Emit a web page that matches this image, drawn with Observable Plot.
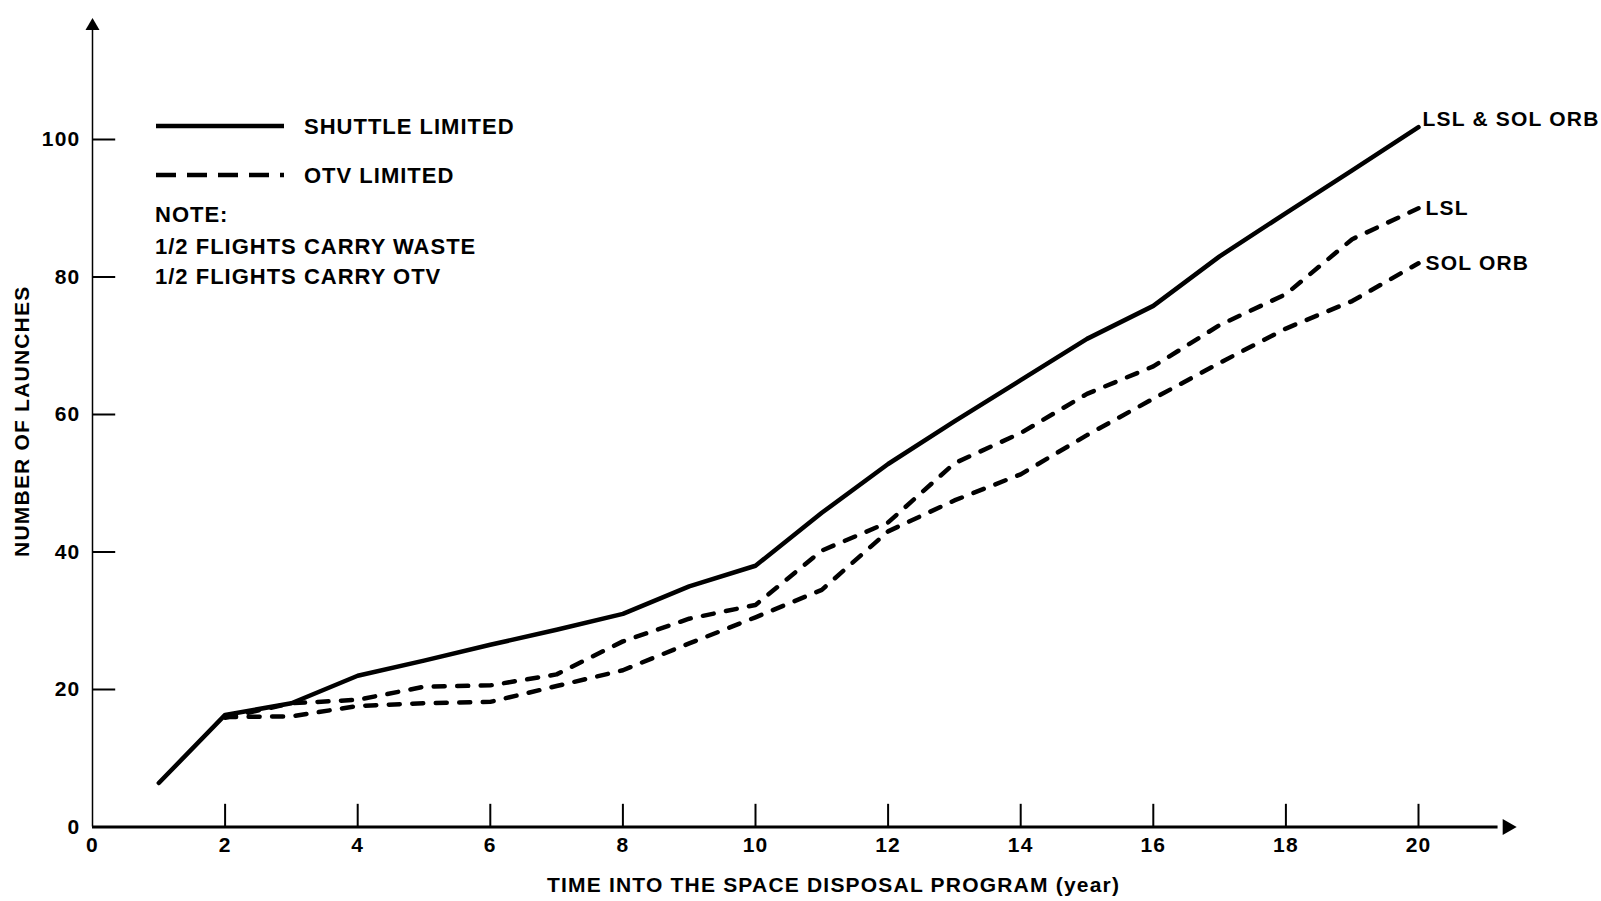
<!DOCTYPE html>
<html>
<head>
<meta charset="utf-8">
<script src="https://cdn.jsdelivr.net/npm/d3@7"></script>
<script src="https://cdn.jsdelivr.net/npm/@observablehq/plot@0.6"></script>
<style>
  html, body { margin: 0; padding: 0; background: #fff; }
  #wrap { position: relative; width: 1601px; height: 901px; overflow: hidden; background: #fff; }
</style>
</head>
<body>
<div id="wrap"></div>
<script>
// ---- data ----
const years = [1, 2, 3, 4, 5, 6, 7, 8, 9, 10, 11, 12, 13, 14, 15, 16, 17, 18, 19, 20];
const shuttleLimited = [6.4, 16.3, 18, 22, 24.2, 26.5, 28.7, 31, 35, 38, 45.7, 52.8, 59, 65, 71, 75.8, 83, 89.3, 95.5, 101.8];
const otvYears = [2, 3, 4, 5, 6, 7, 8, 9, 10, 11, 12, 13, 14, 15, 16, 17, 18, 19, 20];
const otvLsl = [15.9, 18, 18.5, 20.4, 20.6, 22.2, 27, 30.3, 32.3, 40.2, 44.3, 52.9, 57.3, 63, 67, 73, 77.5, 85.5, 90];
const otvSolOrb = [16, 16.1, 17.6, 18, 18.2, 20.5, 22.8, 26.7, 30.5, 34.5, 43, 47.5, 51.3, 57, 62.3, 67.5, 72.5, 76.5, 82];
const xTicks = [0, 2, 4, 6, 8, 10, 12, 14, 16, 18, 20];
const yTicks = [0, 20, 40, 60, 80, 100];
const endLabels = ["LSL & SOL ORB", "LSL", "SOL ORB"];
const legendLabels = ["SHUTTLE LIMITED", "OTV LIMITED"];
const noteLines = ["NOTE:", "1/2 FLIGHTS CARRY WASTE", "1/2 FLIGHTS CARRY OTV"];
const xTitle = "TIME INTO THE SPACE DISPOSAL PROGRAM (year)";
const yTitle = "NUMBER OF LAUNCHES";

// ---- tables built from the arrays ----
const shuttleRows = years.map((x, i) => ({x, y: shuttleLimited[i]}));
const lslRows = otvYears.map((x, i) => ({x, y: otvLsl[i]}));
const solRows = otvYears.map((x, i) => ({x, y: otvSolOrb[i]}));
const ends = [shuttleRows, lslRows, solRows].map((rows, i) => ({...rows[rows.length - 1], label: endLabels[i]}));

const FONT = "'Liberation Sans', Arial, Helvetica, sans-serif";
const xArrowEnd = 21.2, yArrowEnd = 116;

const chart = Plot.plot({
  width: 1601,
  height: 901,
  marginLeft: 92,
  marginRight: 183,
  marginTop: 139,
  marginBottom: 74.5,
  x: {domain: [0, 20]},
  y: {domain: [0, 100]},
  style: {fontFamily: FONT, fontWeight: "bold", fontSize: "21px", background: "#fff", color: "#000", overflow: "visible"},
  marks: [
    // axis lines with arrowheads
    Plot.ruleY([0], {x1: 0, x2: xArrowEnd, stroke: "#000", strokeWidth: 3}),
    Plot.dot([0], {x: xArrowEnd + 0.14, y: 0, symbol: "triangle", rotate: 90, r: 6, fill: "#000", stroke: null}),
    Plot.ruleX([0], {y1: 0, y2: yArrowEnd, stroke: "#000", strokeWidth: 1.5}),
    Plot.dot([0], {x: 0, y: yArrowEnd + 0.5, symbol: "triangle", r: 5.2, fill: "#000", stroke: null}),
    // inward ticks
    Plot.ruleX(xTicks.filter(d => d > 0), {y1: 0, y2: 3.3, stroke: "#000", strokeWidth: 2}),
    Plot.ruleY(yTicks.filter(d => d > 0), {x1: 0, x2: 0.35, stroke: "#000", strokeWidth: 2}),
    Plot.axisX({ticks: xTicks, tickSize: 0, tickPadding: 10, label: null, tickFormat: d => String(d), fontSize: 21, fontWeight: "bold"}),
    Plot.axisY({ticks: yTicks, tickSize: 0, tickPadding: 12, label: null, tickFormat: d => String(d), fontSize: 21, fontWeight: "bold"}),
    // series
    Plot.line(shuttleRows, {x: "x", y: "y", stroke: "#000", strokeWidth: 4.5, strokeLinecap: "round", strokeLinejoin: "round"}),
    Plot.line(lslRows, {x: "x", y: "y", stroke: "#000", strokeWidth: 4.5, strokeDasharray: "11,12.5", strokeLinecap: "round", strokeLinejoin: "round"}),
    Plot.line(solRows, {x: "x", y: "y", stroke: "#000", strokeWidth: 4.5, strokeDasharray: "11,12.5", strokeLinecap: "round", strokeLinejoin: "round"}),
    // end labels
    Plot.text(ends.slice(0, 1), {x: "x", y: "y", text: "label", dx: 4, dy: -8, textAnchor: "start", fontSize: 21, fontWeight: "bold"}),
    Plot.text(ends.slice(1), {x: "x", y: "y", text: "label", dx: 7, dy: 0, textAnchor: "start", fontSize: 21, fontWeight: "bold"}),
    // axis titles
    Plot.text([xTitle], {frameAnchor: "bottom", text: d => d, dx: 78, dy: 58, textAnchor: "middle", lineAnchor: "middle", fontSize: 21, fontWeight: "bold"}),
    Plot.text([yTitle], {frameAnchor: "left", text: d => d, rotate: -90, dx: -70, dy: -62, textAnchor: "middle", lineAnchor: "middle", fontSize: 21, fontWeight: "bold"})
  ]
});

chart.querySelectorAll("text").forEach(t => t.setAttribute("letter-spacing", "1.2"));
document.getElementById("wrap").appendChild(chart);

// ---- legend / note block ----
const svg = d3.select(chart);
const lg = svg.append("g")
  .attr("font-family", FONT).attr("font-weight", "bold").attr("font-size", 22)
  .attr("text-anchor", "start")
  .attr("letter-spacing", "1").attr("fill", "#000");
const legendStyles = [null, "20,11"];
legendLabels.forEach((label, i) => {
  const cy = [126, 175][i];
  lg.append("line").attr("x1", 156).attr("x2", 284).attr("y1", cy).attr("y2", cy)
    .attr("stroke", "#000").attr("stroke-width", 4.5)
    .attr("stroke-dasharray", legendStyles[i]);
  lg.append("text").attr("x", 304).attr("y", cy).attr("dy", "0.35em").attr("text-anchor", "start").text(label);
});
noteLines.forEach((line, i) => {
  lg.append("text").attr("x", 155).attr("y", [214, 246, 276][i]).attr("dy", "0.35em").attr("text-anchor", "start").text(line);
});
</script>
</body>
</html>
